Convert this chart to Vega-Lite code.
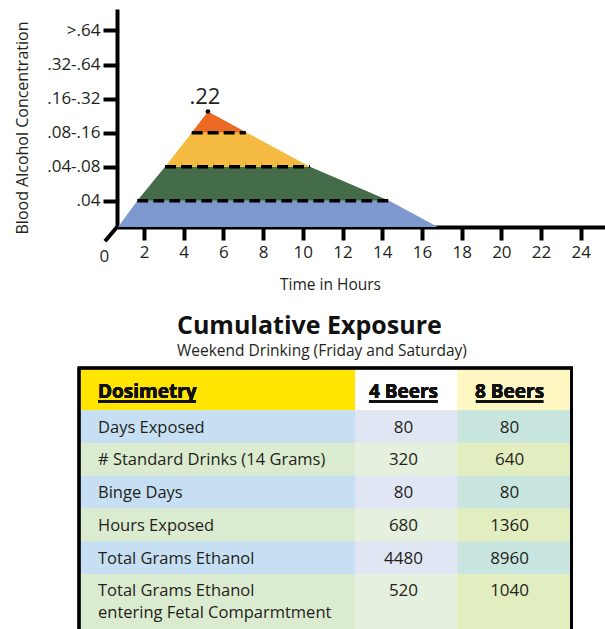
{
  "$schema": "https://vega.github.io/schema/vega-lite/v6.json",
  "padding": {"left": 14, "top": 9, "right": 0, "bottom": 0},
  "background": "white",
  "bounds": "flush",
  "spacing": 141,
  "config": {
    "font": "Open Sans",
    "view": {"stroke": null},
    "axis": {"domainColor": "#000000", "domainWidth": 4, "tickColor": "#000000", "tickWidth": 4, "labelColor": "#231f20", "labelFontSize": 17, "grid": false, "titleColor": "#231f20", "titleFontWeight": "normal", "zindex": 1}
  },
  "vconcat": [
    {
      "width": 488,
      "height": 218,
      "layer": [
        {
          "data": {"values": [
            {"band": "<.04", "t": 0.69, "top": 0.23, "bottom": 0.23},
            {"band": "<.04", "t": 1.66, "top": 1, "bottom": 0.23},
            {"band": "<.04", "t": 14.35, "top": 1, "bottom": 0.23},
            {"band": "<.04", "t": 16.8, "top": 0.23, "bottom": 0.23},
            {"band": ".04-.08", "t": 1.66, "top": 1, "bottom": 1},
            {"band": ".04-.08", "t": 3.06, "top": 2, "bottom": 1},
            {"band": ".04-.08", "t": 10.36, "top": 2, "bottom": 1},
            {"band": ".04-.08", "t": 14.35, "top": 1, "bottom": 1},
            {"band": ".08-.16", "t": 3.06, "top": 2, "bottom": 2},
            {"band": ".08-.16", "t": 4.4, "top": 3, "bottom": 2},
            {"band": ".08-.16", "t": 7.19, "top": 3, "bottom": 2},
            {"band": ".08-.16", "t": 10.36, "top": 2, "bottom": 2},
            {"band": ".16-.32", "t": 4.4, "top": 3, "bottom": 3},
            {"band": ".16-.32", "t": 5.22, "top": 3.62, "bottom": 3},
            {"band": ".16-.32", "t": 7.19, "top": 3, "bottom": 3}
          ]},
          "mark": {"type": "area", "opacity": 1},
          "encoding": {
            "x": {"field": "t", "type": "quantitative", "title": "Time in Hours",
              "scale": {"domain": [0.64, 25.22], "nice": false, "zero": false},
              "axis": {"values": [2, 4, 6, 8, 10, 12, 14, 16, 18, 20, 22, 24], "tickSize": 13, "labelPadding": 4, "titleFontSize": 15.5, "titleX": 213, "titleY": 62, "titleBaseline": "alphabetic", "titleAlign": "center"}},
            "y": {"field": "top", "type": "quantitative", "title": "Blood Alcohol Concentration", "stack": null,
              "scale": {"domain": [0.23, 6.63], "nice": false, "zero": false},
              "axis": {"values": [1, 2, 3, 4, 5, 6], "labelExpr": "['', '.04', '.04-.08', '.08-.16', '.16-.32', '.32-.64', '>.64'][datum.value]", "tickSize": 14, "labelPadding": 3, "titleFontSize": 16, "titleX": -90, "titleY": 118.5, "titleBaseline": "alphabetic", "titleAlign": "center", "titleAngle": 270}},
            "y2": {"field": "bottom"},
            "color": {"field": "band", "type": "nominal", "legend": null,
              "scale": {"domain": ["<.04", ".04-.08", ".08-.16", ".16-.32"], "range": ["#7e98d0", "#446c49", "#f5ba42", "#ec6a24"]}}
          }
        },
        {
          "data": {"values": [
            {"level": 1, "start": 1.66, "end": 14.39},
            {"level": 2, "start": 3.06, "end": 10.36},
            {"level": 3, "start": 4.4, "end": 7.13}
          ]},
          "mark": {"type": "rule", "color": "#000000", "strokeWidth": 3.5, "strokeDash": [11, 5]},
          "encoding": {
            "x": {"field": "start", "type": "quantitative", "title": "Time in Hours"},
            "x2": {"field": "end"},
            "y": {"field": "level", "type": "quantitative", "title": "Blood Alcohol Concentration"}
          }
        },
        {
          "data": {"values": [{"t": 5.22, "bac": 3.62, "label": ".22"}]},
          "layer": [
            {
              "mark": {"type": "point", "filled": true, "color": "#000000", "size": 22, "opacity": 1},
              "encoding": {
                "x": {"field": "t", "type": "quantitative", "title": "Time in Hours"},
                "y": {"field": "bac", "type": "quantitative", "title": "Blood Alcohol Concentration"}
              }
            },
            {
              "mark": {"type": "text", "fontSize": 22, "baseline": "alphabetic", "align": "center", "dy": -8, "dx": -3, "color": "#231f20"},
              "encoding": {
                "x": {"field": "t", "type": "quantitative", "title": "Time in Hours"},
                "y": {"field": "bac", "type": "quantitative", "title": "Blood Alcohol Concentration"},
                "text": {"field": "label"}
              }
            }
          ]
        },
        {
          "data": {"values": [{"tick": 0}]},
          "layer": [
            {
              "mark": {"type": "text", "fontSize": 17, "baseline": "middle", "align": "center", "color": "#231f20"},
              "encoding": {
                "x": {"field": "tick", "type": "quantitative", "title": "Time in Hours"},
                "y": {"datum": -0.66, "type": "quantitative"},
                "text": {"field": "tick"}
              }
            },
            {
              "mark": {"type": "rule", "color": "#000000", "strokeWidth": 4},
              "encoding": {
                "x": {"datum": 0.64, "type": "quantitative"},
                "y": {"datum": 0.23, "type": "quantitative"},
                "x2": {"datum": 0.035},
                "y2": {"datum": -0.186}
              }
            }
          ]
        }
      ]
    },
    {
      "width": 488,
      "height": 261,
      "title": {"text": "Cumulative Exposure", "subtitle": "Weekend Drinking (Friday and Saturday)", "anchor": "start", "frame": "group", "dx": 60, "fontSize": 25, "fontWeight": "bold", "color": "#111111", "subtitleFontSize": 15.5, "subtitleColor": "#231f20", "subtitlePadding": 5, "offset": 7},
      "data": {"values": [
        {"r": 1, "label": "Days Exposed", "b4": "80", "b8": "80"},
        {"r": 2, "label": "# Standard Drinks (14 Grams)", "b4": "320", "b8": "640"},
        {"r": 3, "label": "Binge Days", "b4": "80", "b8": "80"},
        {"r": 4, "label": "Hours Exposed", "b4": "680", "b8": "1360"},
        {"r": 5, "label": "Total Grams Ethanol", "b4": "4480", "b8": "8960"},
        {"r": 6, "label": ["Total Grams Ethanol", "entering Fetal Comparmtment"], "b4": "520", "b8": "1040"}
      ]},
      "layer": [
        {"mark": {"type": "rect", "color": "#ffe500"},
         "encoding": {"x": {"datum": 0, "type": "quantitative", "scale": {"domain": [0, 1, 2, 3], "range": [-38, 238, 340.7, 454.7], "nice": false, "zero": false}, "axis": null},
                      "x2": {"datum": 1},
                      "y": {"datum": -0.56, "type": "quantitative", "scale": {"domain": [0, 1, 5], "range": [21, 58.5, 189.5], "nice": false, "zero": false}, "axis": null},
                      "y2": {"datum": 0.56}}},
        {"mark": {"type": "rect", "color": "#ffffff"},
         "encoding": {"x": {"datum": 1, "type": "quantitative"}, "x2": {"datum": 2}, "y": {"datum": -0.56, "type": "quantitative"}, "y2": {"datum": 0.56}}},
        {"mark": {"type": "rect", "color": "#fff7c2"},
         "encoding": {"x": {"datum": 2, "type": "quantitative"}, "x2": {"datum": 3}, "y": {"datum": -0.56, "type": "quantitative"}, "y2": {"datum": 0.56}}},
        {"mark": {"type": "rect", "color": "#dbebcf"},
         "encoding": {"x": {"datum": 0, "type": "quantitative"}, "x2": {"datum": 1}, "y": {"datum": 0.56, "type": "quantitative"}, "y2": {"datum": 8}}},
        {"mark": {"type": "rect", "color": "#e6f0de"},
         "encoding": {"x": {"datum": 1, "type": "quantitative"}, "x2": {"datum": 2}, "y": {"datum": 0.56, "type": "quantitative"}, "y2": {"datum": 8}}},
        {"mark": {"type": "rect", "color": "#e2edc0"},
         "encoding": {"x": {"datum": 2, "type": "quantitative"}, "x2": {"datum": 3}, "y": {"datum": 0.56, "type": "quantitative"}, "y2": {"datum": 8}}},
        {"transform": [{"filter": "datum.r % 2 == 1"}],
         "mark": {"type": "rule", "color": "#c6dff2", "strokeWidth": 32.75, "strokeCap": "butt"},
         "encoding": {"x": {"datum": 0, "type": "quantitative"}, "x2": {"datum": 1}, "y": {"field": "r", "type": "quantitative"}}},
        {"transform": [{"filter": "datum.r % 2 == 1"}],
         "mark": {"type": "rule", "color": "#e1e6f4", "strokeWidth": 32.75, "strokeCap": "butt"},
         "encoding": {"x": {"datum": 1, "type": "quantitative"}, "x2": {"datum": 2}, "y": {"field": "r", "type": "quantitative"}}},
        {"transform": [{"filter": "datum.r % 2 == 1"}],
         "mark": {"type": "rule", "color": "#c8e6df", "strokeWidth": 32.75, "strokeCap": "butt"},
         "encoding": {"x": {"datum": 2, "type": "quantitative"}, "x2": {"datum": 3}, "y": {"field": "r", "type": "quantitative"}}},
        {"mark": {"type": "rect", "filled": false, "stroke": "#000000", "strokeWidth": 2.5},
         "encoding": {"x": {"datum": 0, "type": "quantitative"}, "x2": {"datum": 3}, "y": {"datum": -0.56, "type": "quantitative"}, "y2": {"datum": 8}}},
        {"mark": {"type": "text", "text": "Dosimetry", "fontSize": 19, "fontWeight": "bold", "align": "left", "baseline": "alphabetic", "dx": 19, "dy": 9, "color": "#111111"},
         "encoding": {"x": {"datum": 0, "type": "quantitative"}, "y": {"datum": 0, "type": "quantitative"}}},
        {"mark": {"type": "text", "text": "4 Beers", "fontSize": 19, "fontWeight": "bold", "align": "center", "baseline": "alphabetic", "dy": 9, "color": "#111111"},
         "encoding": {"x": {"datum": 1.472, "type": "quantitative"}, "y": {"datum": 0, "type": "quantitative"}}},
        {"mark": {"type": "text", "text": "8 Beers", "fontSize": 19, "fontWeight": "bold", "align": "center", "baseline": "alphabetic", "dy": 9, "color": "#111111"},
         "encoding": {"x": {"datum": 2.455, "type": "quantitative"}, "y": {"datum": 0, "type": "quantitative"}}},
        {"mark": {"type": "rule", "color": "#111111", "strokeWidth": 2},
         "encoding": {"x": {"datum": 0.069, "type": "quantitative"}, "x2": {"datum": 0.424}, "y": {"datum": 0.333, "type": "quantitative"}}},
        {"mark": {"type": "rule", "color": "#111111", "strokeWidth": 2},
         "encoding": {"x": {"datum": 1.136, "type": "quantitative"}, "x2": {"datum": 1.808}, "y": {"datum": 0.333, "type": "quantitative"}}},
        {"mark": {"type": "rule", "color": "#111111", "strokeWidth": 2},
         "encoding": {"x": {"datum": 2.16, "type": "quantitative"}, "x2": {"datum": 2.75}, "y": {"datum": 0.333, "type": "quantitative"}}},
        {"mark": {"type": "text", "fontSize": 16.5, "align": "left", "baseline": "alphabetic", "dx": 19, "dy": 6, "lineHeight": 22, "color": "#231f20"},
         "encoding": {"x": {"datum": 0, "type": "quantitative"}, "y": {"field": "r", "type": "quantitative"}, "text": {"field": "label"}}},
        {"mark": {"type": "text", "fontSize": 17, "align": "center", "baseline": "alphabetic", "dy": 6, "color": "#231f20"},
         "encoding": {"x": {"datum": 1.472, "type": "quantitative"}, "y": {"field": "r", "type": "quantitative"}, "text": {"field": "b4"}}},
        {"mark": {"type": "text", "fontSize": 17, "align": "center", "baseline": "alphabetic", "dy": 6, "color": "#231f20"},
         "encoding": {"x": {"datum": 2.455, "type": "quantitative"}, "y": {"field": "r", "type": "quantitative"}, "text": {"field": "b8"}}}
      ]
    }
  ]
}
